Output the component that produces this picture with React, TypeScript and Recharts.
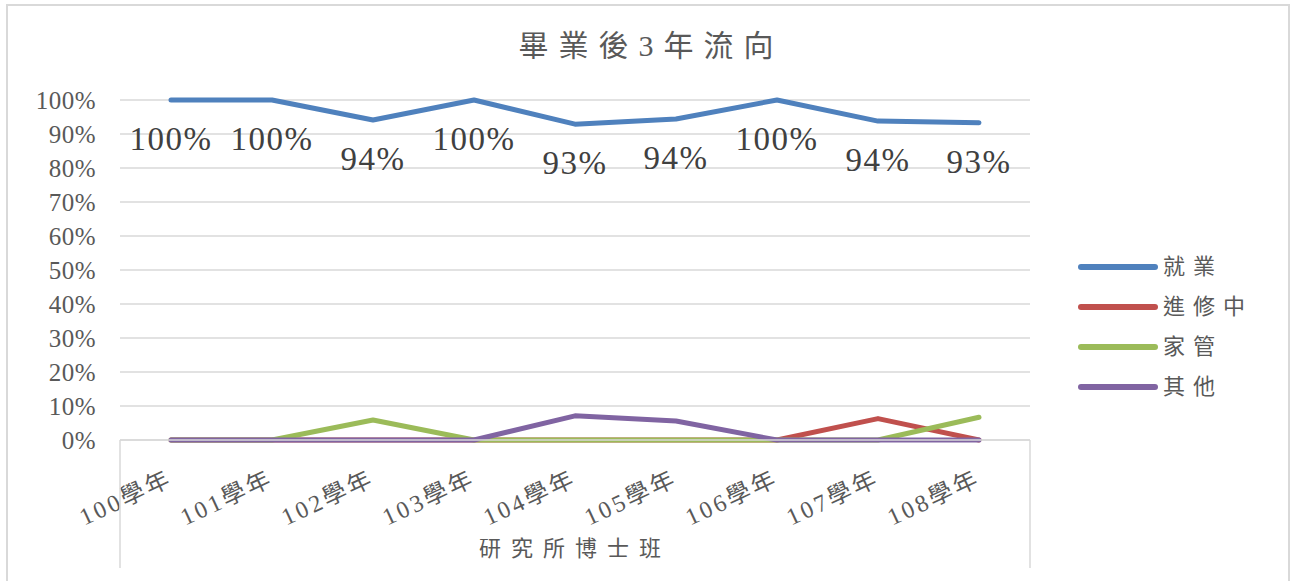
import React from 'react';
import { LineChart, Line, XAxis, YAxis, CartesianGrid, LabelList } from 'recharts';

const categories = ['100學年', '101學年', '102學年', '103學年', '104學年', '105學年', '106學年', '107學年', '108學年'];
const employed = [1, 1, 0.941, 1, 0.929, 0.944, 1, 0.938, 0.933];
const furtherStudy = [0, 0, 0, 0, 0, 0, 0, 0.063, 0];
const homemaker = [0, 0, 0.059, 0, 0, 0, 0, 0, 0.067];
const other = [0, 0, 0, 0, 0.071, 0.056, 0, 0, 0];
const seriesNames = ['就業', '進修中', '家管', '其他'];
const seriesColors = ['#4F81BD', '#C0504D', '#9BBB59', '#8064A2'];
const yTicks = [0, 0.1, 0.2, 0.3, 0.4, 0.5, 0.6, 0.7, 0.8, 0.9, 1];
const title = '畢業後3年流向';
const groupLabel = '研究所博士班';

const seriesValues = [employed, furtherStudy, homemaker, other];
const data = categories.map((c, i) => {
  const row: Record<string, any> = { cat: c };
  seriesNames.forEach((n, k) => { row[n] = seriesValues[k][i]; });
  return row;
});

const W = 1292;
const H = 581;
const MARGIN = { top: 100, right: 262, bottom: 0, left: 0 };
const Y_W = 120;
const X_H = 141;
const PLOT_LEFT = MARGIN.left + Y_W;
const PLOT_RIGHT = W - MARGIN.right;
const PLOT_BOTTOM = H - MARGIN.bottom - X_H;
const FONT = "'Liberation Serif', 'Noto Sans CJK TC', serif";
const AXIS_COLOR = '#595959';
const GRID = '#d9d9d9';

const pct = (v: number) => `${Math.round(v * 100)}%`;

const XTick = (props: any) => {
  const { x, y, payload } = props;
  return (
    <g transform={`translate(${x + 3},${y + 44})`}>
      <text x={0} y={0} textAnchor="end" transform="rotate(-25)" fontSize={24} letterSpacing={3}
        fill={AXIS_COLOR} fontFamily={FONT}>{payload.value}</text>
    </g>
  );
};

const YTick = (props: any) => {
  const { x, y, payload } = props;
  return (
    <text x={x} y={y} dy={9} textAnchor="end" fontSize={25} letterSpacing={0.5}
      fill={AXIS_COLOR} fontFamily={FONT}>{pct(payload.value)}</text>
  );
};

const DataLabel = (props: any) => {
  const { x, y, value } = props;
  return (
    <text x={x} y={y + 50} textAnchor="middle" fontSize={33} letterSpacing={1.5}
      fill="#404040" fontFamily={FONT}>{pct(value)}</text>
  );
};

export default function App() {
  return (
    <div style={{ position: 'absolute', left: 0, top: 0, width: W, height: H, overflow: 'hidden', background: '#fff' }}>
      <div style={{ position: 'absolute', left: 6, top: 4, width: 1280, height: 620, border: `2px solid ${GRID}` }} />
      <div style={{ position: 'absolute', left: 0, top: 0 }}>
        <LineChart width={W} height={H} data={data} margin={MARGIN}>
          <CartesianGrid vertical={false} stroke={GRID} strokeWidth={1.5} />
          <XAxis dataKey="cat" height={X_H} padding={{ left: 51, right: 51 }} tickLine={false}
            tickSize={0} tickMargin={0} axisLine={{ stroke: GRID, strokeWidth: 1.5 }} tick={<XTick />} interval={0} />
          <YAxis width={Y_W} domain={[0, 1]} ticks={yTicks} axisLine={false} tickLine={false}
            tickSize={0} tickMargin={24} tick={<YTick />} />
          {seriesNames.map((n, k) => (
            <Line key={n} dataKey={n} stroke={seriesColors[k]} strokeWidth={5} dot={false}
              strokeLinecap="round" strokeLinejoin="round" isAnimationActive={false}>
              {k === 0 ? <LabelList dataKey={n} content={<DataLabel />} /> : null}
            </Line>
          ))}
        </LineChart>
      </div>
      <svg width={W} height={H} style={{ position: 'absolute', left: 0, top: 0, pointerEvents: 'none' }}>
        <text x={W / 2 + 5} y={56} textAnchor="middle" fontSize={30} letterSpacing={10}
          fill={AXIS_COLOR} fontFamily={FONT}>{title}</text>
        <line x1={PLOT_LEFT} y1={PLOT_BOTTOM} x2={PLOT_LEFT} y2={PLOT_BOTTOM + 128} stroke={GRID} strokeWidth={1.5} />
        <line x1={PLOT_RIGHT} y1={PLOT_BOTTOM} x2={PLOT_RIGHT} y2={PLOT_BOTTOM + 128} stroke={GRID} strokeWidth={1.5} />
        <text x={(PLOT_LEFT + PLOT_RIGHT) / 2} y={556} textAnchor="middle" fontSize={22} letterSpacing={10}
          fill={AXIS_COLOR} fontFamily={FONT}>{groupLabel}</text>
      </svg>
      <div style={{ position: 'absolute', left: 1077, top: 247 }}>
        {seriesNames.map((n, k) => (
          <div key={n} style={{ display: 'flex', alignItems: 'center', height: 40 }}>
            <svg width={82} height={10}>
              <line x1={4} y1={5} x2={78} y2={5} stroke={seriesColors[k]} strokeWidth={6} strokeLinecap="round" />
            </svg>
            <span style={{ marginLeft: 4, fontSize: 22, letterSpacing: 8, color: AXIS_COLOR, fontFamily: FONT, lineHeight: '40px' }}>{n}</span>
          </div>
        ))}
      </div>
    </div>
  );
}
